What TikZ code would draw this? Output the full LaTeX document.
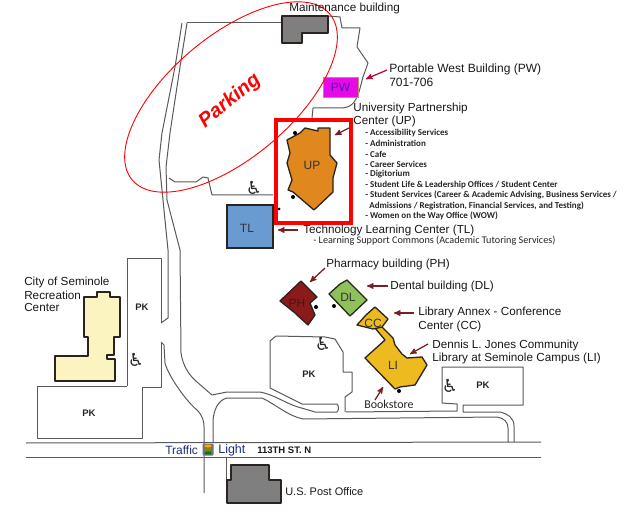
\documentclass[tikz,border=0pt]{standalone}
\usepackage{fontspec}
\usepackage{tikz}
\usetikzlibrary{arrows,shapes.geometric}
\setmainfont{Open Sans}
\newfontfamily\listfont{Carlito}
\newfontfamily\labelfont{Liberation Sans}
\newfontfamily\signfont{DejaVu Sans}
\definecolor{roadgray}{HTML}{5A5A5A}
\definecolor{bldgline}{HTML}{2A2320}
\definecolor{arrowred}{HTML}{7A1F24}
\definecolor{upfill}{HTML}{E0881E}
\definecolor{tlfill}{HTML}{6A9BD0}
\definecolor{recfill}{HTML}{FBF3C0}
\definecolor{phfill}{HTML}{8B1A1A}
\definecolor{dlfill}{HTML}{8FC15A}
\definecolor{lifill}{HTML}{EDBB1F}
\definecolor{greyfill}{HTML}{7F7F7F}
\definecolor{navytext}{HTML}{1F2F7F}
\definecolor{pwfill}{HTML}{E60AE6}
\definecolor{pwtext}{HTML}{5A10C0}
\definecolor{pwedge}{HTML}{C09060}
\definecolor{pwarrow}{HTML}{B01040}
\tikzset{every node/.style={inner sep=0pt}}

\begin{document}
\begin{tikzpicture}[x=1pt,y=-1pt,>=stealth',semithick]
  \tikzstyle{road}=[draw=roadgray,line width=1pt,line join=round]
  \tikzstyle{bldg}=[draw=bldgline,line width=1.3pt,line join=round]
  \tikzstyle{callout}=[->,draw=arrowred,line width=1.3pt]
  \tikzstyle{place}=[font=\labelfont\fontsize{11.7}{13}\selectfont,text=black!90,anchor=west]
  \tikzstyle{tag}=[font=\labelfont\fontsize{12}{13}\selectfont,text=black!80]
  \tikzstyle{pk}=[font=\labelfont\bfseries\fontsize{9.5}{11}\selectfont,text=black!85]
  \tikzstyle{svc}=[font=\listfont\bfseries\fontsize{9}{10}\selectfont,text=black!85,anchor=west]
  \tikzstyle{access}=[font=\signfont\fontsize{18}{18}\selectfont,text=black!85]
  \tikzstyle{dot}=[circle,fill=black,minimum size=4pt]

  \useasboundingbox (0,0) rectangle (635,513);
  \fill[white] (0,0) rectangle (635,513);

  % roads
  \path[road] (182,23) -- (175,67) -- (162,133) -- (159,160) -- (163,200) -- (168,250) -- (168,318) -- (161,323);
  \path[road] (187,23) -- (180,67) -- (170,133) -- (166,167) -- (167,200) -- (180,250) -- (181,353)
     .. controls (183,367) and (190,376) .. (197,382) -- (212,395) -- (227,392) -- (260,392)
     .. controls (275,395) and (285,403) .. (298,407) -- (315,412) -- (337,412);
  \path[road] (161,342) -- (164,345) -- (165,363) .. controls (168,375) and (185,400) .. (197,410)
     .. controls (203,416) and (204,422) .. (204,427) -- (204,493);
  \path[road] (213,443) -- (213,420) .. controls (214,410) and (218,400) .. (227,398) -- (262,398)
     .. controls (275,404) and (288,416) .. (303,419) -- (497,417) .. controls (504,418) and (508,422) .. (508,428) -- (508,442);
  \path[road] (346,412) -- (457,411) -- (457,404) -- (442,403) -- (442,367) -- (523,367) -- (523,405) -- (463,405) -- (463,412)
     -- (500,412) .. controls (508,414) and (514,418) .. (514,426) -- (514,442);
  \path[road] (26,443) -- (541,442);
  \path[road] (26,457) -- (541,457);
  \path[road] (226,457) -- (226,480);

  % parking outlines
  \path[road] (187,23) -- (282,23);
  \path[road] (328,16) -- (340,17) -- (342,28) -- (360,28) -- (357,47) -- (368,63) -- (363,77) -- (359,92)
     .. controls (355,104) and (350,108) .. (340,108) -- (313,108) -- (312,118);
  \path[road] (169,178) -- (175,182) -- (196,182) -- (203,177) -- (208,178) -- (212,195) -- (273,195);
  \path[road] (127,386) -- (127,259) -- (161,259) -- (161,323);
  \path[road] (161,342) -- (161,387) -- (142,387) -- (142,438) -- (37,438) -- (37,386) -- (127,386);
  \path[road] (345,412) -- (345,397) -- (352,392) -- (352,372) -- (343,372) -- (343,352) -- (335,339) -- (325,337) -- (276,336) -- (270,341) -- (270,388) -- (302,404) -- (337,404) .. controls (339,406) and (339,410) .. (337,412);

  % buildings
  \filldraw[bldg,fill=greyfill] (282,16) -- (328,16) -- (328,33) -- (302,33) -- (302,43) -- (282,43) -- cycle;
  \filldraw[bldg,fill=greyfill] (231,465) -- (269,465) -- (269,480) -- (281,480) -- (281,503) -- (227,503) -- (227,480) -- (231,480) -- cycle;
  \filldraw[bldg,fill=upfill] (305,128) -- (318,131) -- (318,128) -- (330,128) -- (330,155) -- (337,163) -- (333,178) -- (333,192) -- (314,210) -- (293,192) -- (288,190) -- (292,180) -- (287,163) -- (290,153) -- (287,140) -- (300,133) -- cycle;
  \filldraw[bldg,fill=recfill] (97,292) -- (110,292) -- (110,297) -- (120,297) -- (120,337) -- (114,337) -- (114,355) -- (107,355) -- (107,359) -- (115,359) -- (115,381) -- (55,381) -- (55,356) -- (88,356) -- (88,337) -- (84,337) -- (84,297) -- (97,297) -- cycle;
  \filldraw[bldg,fill=phfill] (301,281) -- (317,297) -- (310,303) -- (315,315) -- (308,325) -- (297,315) -- (295,313) -- (280,301) -- cycle;
  \filldraw[bldg,fill=dlfill] (347,280) -- (367,300) -- (350,316) -- (329,294) -- (340,284) -- cycle;
  \filldraw[bldg,fill=lifill] (382,327) -- (393,338) -- (395,345) -- (402,354) -- (407,358) -- (422,357) -- (427,365) -- (415,385) -- (400,387) -- (395,389) -- (365,358) -- (385,340) -- (375,328) -- cycle;
  \filldraw[bldg,fill=lifill] (375,307) -- (388,319) -- (382,327) -- (373,329) -- (357,325) -- (366,315) -- cycle;

  \node[rectangle,draw=pwedge,fill=pwfill,minimum width=35pt,minimum height=20pt] (PW) at (340.5,87) {};
  \node[rectangle,draw=bldgline,line width=1.3pt,fill=tlfill,minimum width=46pt,minimum height=43pt] (TL) at (250,226.5) {};

  \node[tag,text=pwtext] (PWtag) at (PW) {PW};
  \node[tag] (TLtag) at (247,228) {TL};
  \node[tag] (UP) at (312,165) {UP};
  \node[tag,text=phfill!60!black] (PH) at (297,303) {PH};
  \node[tag] (DL) at (348,297) {DL};
  \node[tag] (CC) at (373,323) {CC};
  \node[tag] (LI) at (393,365) {LI};

  \node[dot] (dota) at (295,133) {};
  \node[dot] (dotb) at (293,197) {};
  \node[dot,minimum size=3pt] (dotc) at (279,209) {};
  \node[dot] (dotd) at (316,307) {};
  \node[dot] (dote) at (334,306) {};
  \node[dot] (dotf) at (399,391) {};

  % parking
  \node[pk] (pka) at (142,307) {PK};
  \node[pk] (pkb) at (89,413) {PK};
  \node[pk] (pkc) at (309,374) {PK};
  \node[pk] (pkd) at (483,385) {PK};
  \node[access] (acca) at (254,188) {♿};
  \node[access] (accb) at (136,360) {♿};
  \node[access] (accc) at (323,344) {♿};
  \node[access] (accd) at (450,386) {♿};

  \node[ellipse,draw=red,line width=0.9pt,rotate=40,minimum width=258pt,minimum height=122pt] (oval) at (231,97) {};
  \node[rotate=40,text=red,font=\labelfont\bfseries\itshape\fontsize{20}{22}\selectfont] (parking) at (230,101) {Parking};
  \draw[red,line width=4pt] (275.5,120.5) rectangle (351,223);

  % labels
  \node[place] (maint) at (289,8) {Maintenance building};
  \node[place,font=\labelfont\fontsize{12}{13}\selectfont] (pwl) at (389,69) {Portable West Building (PW)};
  \node[place,font=\labelfont\fontsize{12}{13}\selectfont] (pwn) at (389,82) {701-706};
  \node[place] (upa) at (353,108) {University Partnership};
  \node[place] (upb) at (353,121) {Center (UP)};
  \node[svc] (s1) at (365,133) {- Accessibility Services};
  \node[svc] (s2) at (365,143) {- Administration};
  \node[svc] (s3) at (365,154) {- Cafe};
  \node[svc] (s4) at (365,164) {- Career Services};
  \node[svc] (s5) at (365,174) {- Digitorium};
  \node[svc] (s6) at (365,185) {- Student Life \& Leadership Offices / Student Center};
  \node[svc] (s7) at (365,195) {- Student Services (Career \& Academic Advising, Business Services /};
  \node[svc] (s8) at (369,206) {Admissions / Registration, Financial Services, and Testing)};
  \node[svc] (s9) at (365,216) {- Women on the Way Office (WOW)};
  \node[place] (tll) at (303,230) {Technology Learning Center (TL)};
  \node[svc,font=\listfont\fontsize{10.2}{11}\selectfont] (tls) at (313,241) {- Learning Support Commons (Academic Tutoring Services)};
  \node[place] (phl) at (326,264) {Pharmacy building (PH)};
  \node[place] (dll) at (390,286) {Dental building (DL)};
  \node[place] (ccl) at (418,312) {Library Annex - Conference};
  \node[place] (ccm) at (418,326) {Center (CC)};
  \node[place] (lil) at (432,345) {Dennis L. Jones Community};
  \node[place] (lim) at (432,358) {Library at Seminole Campus (LI)};
  \node[svc,font=\listfont\fontsize{12}{13}\selectfont] (book) at (364,404) {Bookstore};
  \node[place] (rca) at (24,282) {City of Seminole};
  \node[place] (rcb) at (24,295) {Recreation};
  \node[place] (rcc) at (24,307) {Center};
  \node[place,font=\labelfont\fontsize{12}{13}\selectfont,text=navytext] (tra) at (165,450) {Traffic};
  \node[place,font=\labelfont\fontsize{12.5}{13}\selectfont,text=navytext] (trb) at (218,450) {Light};
  \node[place,font=\labelfont\bfseries\fontsize{9.5}{10}\selectfont] (st) at (257,450) {113TH ST. N};
  \node[place,font=\labelfont\fontsize{11}{12}\selectfont] (post) at (285,492) {U.S. Post Office};

  % traffic light
  \node[rectangle,rounded corners=1pt,fill=black!55,minimum width=11pt,minimum height=12pt] (lamp) at (208,449.5) {};
  \node[ellipse,fill=orange!70!yellow,minimum width=7pt,minimum height=3pt] (lampa) at (208,446) {};
  \node[ellipse,fill=olive,minimum width=7pt,minimum height=3pt] (lampb) at (208,449.5) {};
  \node[ellipse,fill=green!50!black,minimum width=7pt,minimum height=3pt] (lampc) at (208,453) {};

  % arrows
  \coordinate (PWtail) at (387,70);   \coordinate (PWhead) at (366,79);
  \coordinate (UPtail) at (349,128);  \coordinate (UPhead) at (335,135);
  \coordinate (TLtail) at (298,230);  \coordinate (TLhead) at (278,230);
  \coordinate (PHtail) at (325,268);  \coordinate (PHhead) at (310,282);
  \coordinate (DLtail) at (388,286);  \coordinate (DLhead) at (367,286);
  \coordinate (CCtail) at (414,313);  \coordinate (CChead) at (394,313);
  \coordinate (LItail) at (428,344);  \coordinate (LIhead) at (410,354);
  \coordinate (BKtail) at (375,400);  \coordinate (BKhead) at (383,387);
  \path (PWtail) edge [callout,draw=pwarrow] (PWhead)
(UPtail) edge [callout] (UPhead)
(TLtail) edge [callout] (TLhead)
(PHtail) edge [callout] (PHhead)
(DLtail) edge [callout] (DLhead)
(CCtail) edge [callout] (CChead)
(LItail) edge [callout] (LIhead)
(BKtail) edge [callout] (BKhead);
\end{tikzpicture}
\end{document}
